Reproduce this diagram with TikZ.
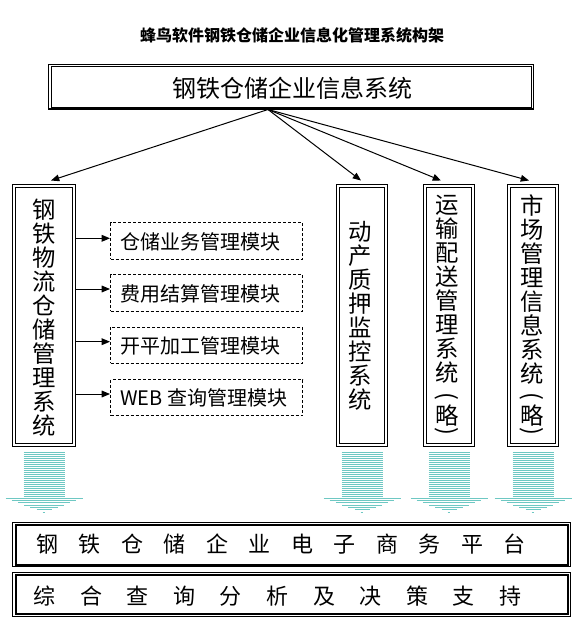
\documentclass[tikz,border=0pt]{standalone}
\usepackage{fontspec}
\setmainfont{Noto Sans CJK SC}
\usepackage{graphicx}
\usetikzlibrary{arrows.meta,fit}
\definecolor{stripecol}{RGB}{110,200,195}
\newcommand{\lsA}{\hspace{15.4pt}}
\newcommand{\lsB}{\hspace{18.4pt}}
\begin{document}
\begin{tikzpicture}[x=0.75pt,y=-0.75pt,
  conn/.style={line width=0.75pt,-{Triangle[length=6.2pt,width=5pt]}},
  frame/.style={draw,line width=0.75pt,inner sep=0pt},
  innerline/.style={line width=0.75pt},
  dashbox/.style={draw,line width=0.75pt,dash pattern=on 2.25pt off 1.5pt,inner sep=0pt},
  stripe/.style={draw=stripecol,line width=0.75pt},
  vtext/.style={font=\fontsize{17.5pt}{18pt}\selectfont,align=center,inner sep=0pt},
  paren/.style={font=\fontsize{17.5pt}{18pt}\selectfont,inner sep=0pt},
  modtext/.style={font=\fontsize{15pt}{18pt}\selectfont,inner sep=0pt,anchor=west},
  bigtext/.style={font=\fontsize{16.5pt}{18pt}\selectfont,inner sep=0pt},
]
\useasboundingbox (0,0) rectangle (580,635);

% title
\node[font=\bfseries\fontsize{12pt}{14pt}\selectfont,inner sep=0pt] (title) at (292,35) {蜂鸟软件钢铁仓储企业信息化管理系统构架};

% top box
\node[frame,fit={(48.5,64.5)(533.5,108.5)}] (top) {};
\draw[innerline] ([shift={(3,3)}]top.north west) rectangle ([shift={(-3,-2)}]top.south east);
\draw[line width=1.5pt] (top.south west) -- (top.south east);
\node[font=\fontsize{18pt}{20pt}\selectfont,inner sep=0pt] (toptext) at (292,88) {钢铁仓储企业信息系统};

% left box
\node[frame,fit={(12.5,184.5)(75.5,446.5)}] (lb) {};
\draw[innerline] ([shift={(3.3,3.3)}]lb.north west) rectangle ([shift={(-3.3,-3.3)}]lb.south east);
\node[vtext] (lbt) at (44,317.5) {钢\\铁\\物\\流\\仓\\储\\管\\理\\系\\统};

% module boxes
\node[dashbox,fit={(110.5,222.8)(302.5,259)}] (m1) {};
\node[dashbox,fit={(110.5,274.8)(302.5,311)}] (m2) {};
\node[dashbox,fit={(110.5,327.2)(302.5,363)}] (m3) {};
\node[dashbox,fit={(110.5,379.5)(302.5,415.5)}] (m4) {};
\node[modtext] (m1t) at (120,242) {仓储业务管理模块};
\node[modtext] (m2t) at (120,294) {费用结算管理模块};
\node[modtext] (m3t) at (120,346) {开平加工管理模块};
\node[modtext] (m4t) at (120,398) {WEB 查询管理模块};

\draw[conn] (lb.east |- 0,238.3) -- (m1.west |- 0,238.3);
\draw[conn] (lb.east |- 0,289) -- (m2.west |- 0,289);
\draw[conn] (lb.east |- 0,341.7) -- (m3.west |- 0,341.7);
\draw[conn] (lb.east |- 0,394) -- (m4.west |- 0,394);

% right boxes
\node[frame,fit={(336.5,184.5)(387.5,446.5)}] (r1) {};
\draw[innerline] ([shift={(3.3,3.3)}]r1.north west) rectangle ([shift={(-3.3,-3.3)}]r1.south east);
\node[frame,fit={(423.5,184.5)(474.5,446.5)}] (r2) {};
\draw[innerline] ([shift={(3.3,3.3)}]r2.north west) rectangle ([shift={(-3.3,-3.3)}]r2.south east);
\node[frame,fit={(507.5,184.5)(558.5,446.5)}] (r3) {};
\draw[innerline] ([shift={(3.3,3.3)}]r3.north west) rectangle ([shift={(-3.3,-3.3)}]r3.south east);

\node[vtext] (r1t) at (360,316) {动\\产\\质\\押\\监\\控\\系\\统};
\node[vtext] (r2t) at (447,289.5) {运\\输\\配\\送\\管\\理\\系\\统};
\node[paren] (r2a) at (447,398.3) {\rotatebox[origin=c]{-90}{(}};
\node[paren] (r2b) at (447,415.8) {略};
\node[paren] (r2c) at (447,433.3) {\rotatebox[origin=c]{-90}{)}};
\node[vtext] (r3t) at (532,290) {市\\场\\管\\理\\信\\息\\系\\统};
\node[paren] (r3a) at (532,398.3) {\rotatebox[origin=c]{-90}{(}};
\node[paren] (r3b) at (532,415.8) {略};
\node[paren] (r3c) at (532,433.3) {\rotatebox[origin=c]{-90}{)}};

% arrows from top box
\coordinate (src) at (268,109.5);
\coordinate (t1) at (51,180.5);
\coordinate (t2) at (361,180.5);
\coordinate (t3) at (441,180.5);
\coordinate (t4) at (529,180.5);
\draw[conn] (src) -- (t1);
\draw[conn] (src) -- (t2);
\draw[conn] (src) -- (t3);
\draw[conn] (src) -- (t4);

% striped block arrows
\foreach \cx in {44,362,449,533} {
  \foreach \yy in {452,454,...,496} {
    \draw[stripe] (\cx-20.5,\yy) -- (\cx+20.5,\yy);
  }
  \foreach \i in {0,...,6} {
    \draw[stripe] ({\cx-38.5+6.2*\i},{498.3+2.3*\i}) -- ({\cx+38.5-6.2*\i},{498.3+2.3*\i});
  }
}

% bottom platforms
\node[frame,fit={(12.5,522.5)(570.5,566.5)}] (p1) {};
\draw[line width=1.5pt] ([shift={(3.7,3.3)}]p1.north west) rectangle ([shift={(-3.5,-2.5)}]p1.south east);
\node[bigtext] (p1t) at (281,544.5) {钢\lsA 铁\lsA 仓\lsA 储\lsA 企\lsA 业\lsA 电\lsA 子\lsA 商\lsA 务\lsA 平\lsA 台};

\node[frame,fit={(12.5,572.5)(570.5,616.5)}] (p2) {};
\draw[line width=1.5pt] ([shift={(3.7,3.3)}]p2.north west) rectangle ([shift={(-3.5,-3.2)}]p2.south east);
\node[bigtext] (p2t) at (277.5,596) {综\lsB 合\lsB 查\lsB 询\lsB 分\lsB 析\lsB 及\lsB 决\lsB 策\lsB 支\lsB 持};
\end{tikzpicture}
\end{document}
